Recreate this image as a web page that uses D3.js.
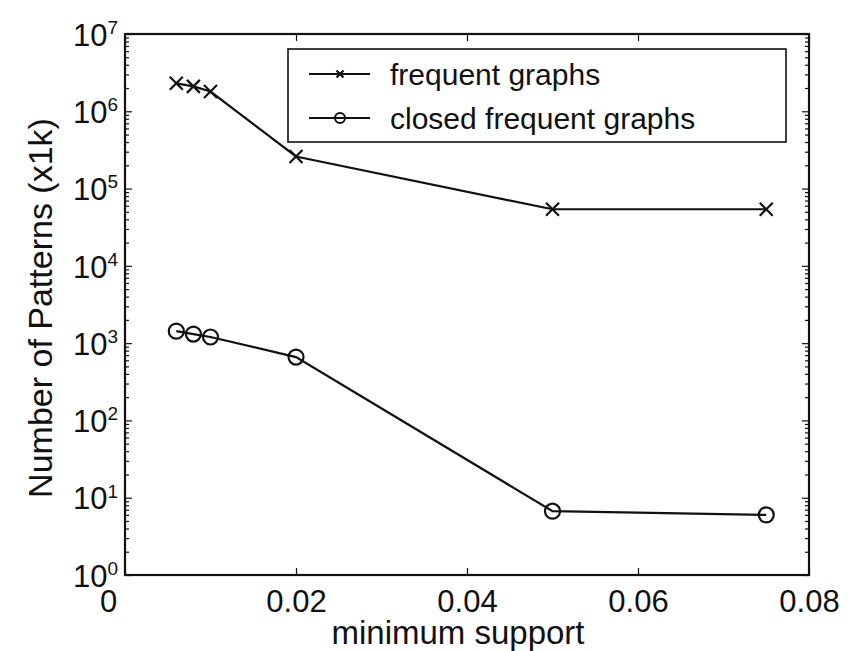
<!DOCTYPE html>
<html lang="en">
<head>
  <meta charset="UTF-8">
  <title>Number of Patterns vs minimum support</title>
  <script src="https://d3js.org/d3.v7.min.js"></script>
  <style>
    body { margin: 0; background: #fff; }
    text { font-family: "Liberation Sans", Arial, sans-serif; fill: #111; }
    .axis path { display: none; }
    .axis line { stroke: #111; stroke-width: 1.2; }
    .axis text { font-size: 31px; }
    .axis-label { font-size: 34px; }
    .legend text { font-size: 30px; }
  </style>
</head>
<body>
<svg id="chart" width="857" height="651"></svg>
<script>
  // data
  const support = [0.006, 0.008, 0.01, 0.02, 0.05, 0.075];
  const frequentGraphs = [2.3e6, 2.1e6, 1.8e6, 2.6e5, 5.4e4, 5.4e4];
  const closedGraphs = [1430, 1310, 1200, 660, 6.7, 6.0];
  const seriesNames = ["frequent graphs", "closed frequent graphs"];
  const xTicks = [0, 0.02, 0.04, 0.06, 0.08];
  const yDecades = [0, 1, 2, 3, 4, 5, 6, 7];

  const plotLeft = 125, plotRight = 809, plotTop = 34, plotBottom = 575;

  const svg = d3.select("#chart");

  const x = d3.scaleLinear()
          .domain([0, 0.08])
          .range([plotLeft, plotRight]);

  const y = d3.scaleLog()
          .domain([1, 1e7])
          .range([plotBottom, plotTop]);

  // minor ticks 2..9 each decade
  let minor = [];
  for (let e = 0; e < 7; e++) {
    for (let m = 2; m <= 9; m++) minor.push(m * Math.pow(10, e));
  }

  // bottom axis with labels
  const xAxis = svg.append("g")
          .attr("class", "axis")
          .attr("transform", "translate(0," + plotBottom + ")")
          .call(d3.axisBottom(x).tickValues(xTicks).tickSizeInner(-7).tickSizeOuter(0).tickPadding(15)
                  .tickFormat(d => d === 0 ? "0" : d3.format(".2f")(d)));
  // the zero label sits a bit left of its tick in the original
  xAxis.selectAll(".tick text").filter(d => d === 0).attr("dx", -17);

  // top axis, ticks only
  svg.append("g")
          .attr("class", "axis")
          .attr("transform", "translate(0," + plotTop + ")")
          .call(d3.axisTop(x).tickValues(xTicks).tickSizeInner(-7).tickSizeOuter(0).tickFormat(""));

  // left axis: 10^n labels
  const yAxis = svg.append("g")
          .attr("class", "axis")
          .attr("transform", "translate(" + plotLeft + ",0)")
          .call(d3.axisLeft(y).tickValues(yDecades.map(e => Math.pow(10, e)))
                  .tickSizeInner(-7).tickSizeOuter(0).tickPadding(7).tickFormat(""));

  yAxis.selectAll(".tick text")
          .text("10")
          .attr("dy", "0.36em")
          .append("tspan")
          .attr("dy", "-0.62em")
          .style("font-size", "19px")
          .text((d, i) => yDecades[i]);

  svg.append("g")
          .attr("class", "axis")
          .attr("transform", "translate(" + plotLeft + ",0)")
          .call(d3.axisLeft(y).tickValues(minor).tickSizeInner(-4).tickSizeOuter(0).tickFormat(""));

  // right axis
  svg.append("g")
          .attr("class", "axis")
          .attr("transform", "translate(" + plotRight + ",0)")
          .call(d3.axisRight(y).tickValues(yDecades.map(e => Math.pow(10, e)))
                  .tickSizeInner(-7).tickSizeOuter(0).tickFormat(""));
  svg.append("g")
          .attr("class", "axis")
          .attr("transform", "translate(" + plotRight + ",0)")
          .call(d3.axisRight(y).tickValues(minor).tickSizeInner(-4).tickSizeOuter(0).tickFormat(""));

  // frame
  svg.append("rect")
          .attr("x", plotLeft)
          .attr("y", plotTop)
          .attr("width", plotRight - plotLeft)
          .attr("height", plotBottom - plotTop)
          .attr("fill", "none")
          .attr("stroke", "#111")
          .attr("stroke-width", 2.2);

  // axis labels
  svg.append("text")
          .attr("class", "axis-label")
          .attr("x", 458)
          .attr("y", 644)
          .attr("text-anchor", "middle")
          .style("font-size", "33px")
          .text("minimum support");

  svg.append("text")
          .attr("class", "axis-label")
          .attr("transform", "translate(52,308) rotate(-90)")
          .attr("text-anchor", "middle")
          .text("Number of Patterns (x1k)");

  const line = d3.line()
          .x(d => x(d[0]))
          .y(d => y(d[1]));

  const freqPts = support.map((s, i) => [s, frequentGraphs[i]]);
  const closedPts = support.map((s, i) => [s, closedGraphs[i]]);

  svg.append("path")
          .datum(freqPts)
          .attr("d", line)
          .attr("fill", "none")
          .attr("stroke", "#111")
          .attr("stroke-width", 2.2);

  svg.append("path")
          .datum(closedPts)
          .attr("d", line)
          .attr("fill", "none")
          .attr("stroke", "#111")
          .attr("stroke-width", 2.2);

  function cross(g, cx, cy, r) {
    g.append("path")
            .attr("d", "M" + (cx - r) + "," + (cy - r) + "L" + (cx + r) + "," + (cy + r)
                    + "M" + (cx - r) + "," + (cy + r) + "L" + (cx + r) + "," + (cy - r))
            .attr("stroke", "#111")
            .attr("stroke-width", 2.2);
  }

  const marks = svg.append("g");
  freqPts.forEach(d => cross(marks, x(d[0]), y(d[1]), 6.5));

  marks.selectAll("circle")
          .data(closedPts)
          .enter().append("circle")
          .attr("cx", d => x(d[0]))
          .attr("cy", d => y(d[1]))
          .attr("r", 7.5)
          .attr("fill", "none")
          .attr("stroke", "#111")
          .attr("stroke-width", 2.2);

  // legend
  const legend = svg.append("g").attr("class", "legend");
  legend.append("rect")
          .attr("x", 288)
          .attr("y", 49)
          .attr("width", 498)
          .attr("height", 93)
          .attr("fill", "#fff")
          .attr("stroke", "#111")
          .attr("stroke-width", 1.6);

  const rowY = [74, 118];
  seriesNames.forEach((name, i) => {
    legend.append("line")
            .attr("x1", 309).attr("x2", 370)
            .attr("y1", rowY[i]).attr("y2", rowY[i])
            .attr("stroke", "#111")
            .attr("stroke-width", 2);
    if (i === 0) {
      cross(legend, 340, rowY[i], 3.5);
    } else {
      legend.append("circle")
              .attr("cx", 340).attr("cy", rowY[i]).attr("r", 5)
              .attr("fill", "none").attr("stroke", "#111").attr("stroke-width", 2);
    }
    legend.append("text")
            .attr("x", 390)
            .attr("y", rowY[i] + 11)
            .text(name);
  });
</script>
</body>
</html>
